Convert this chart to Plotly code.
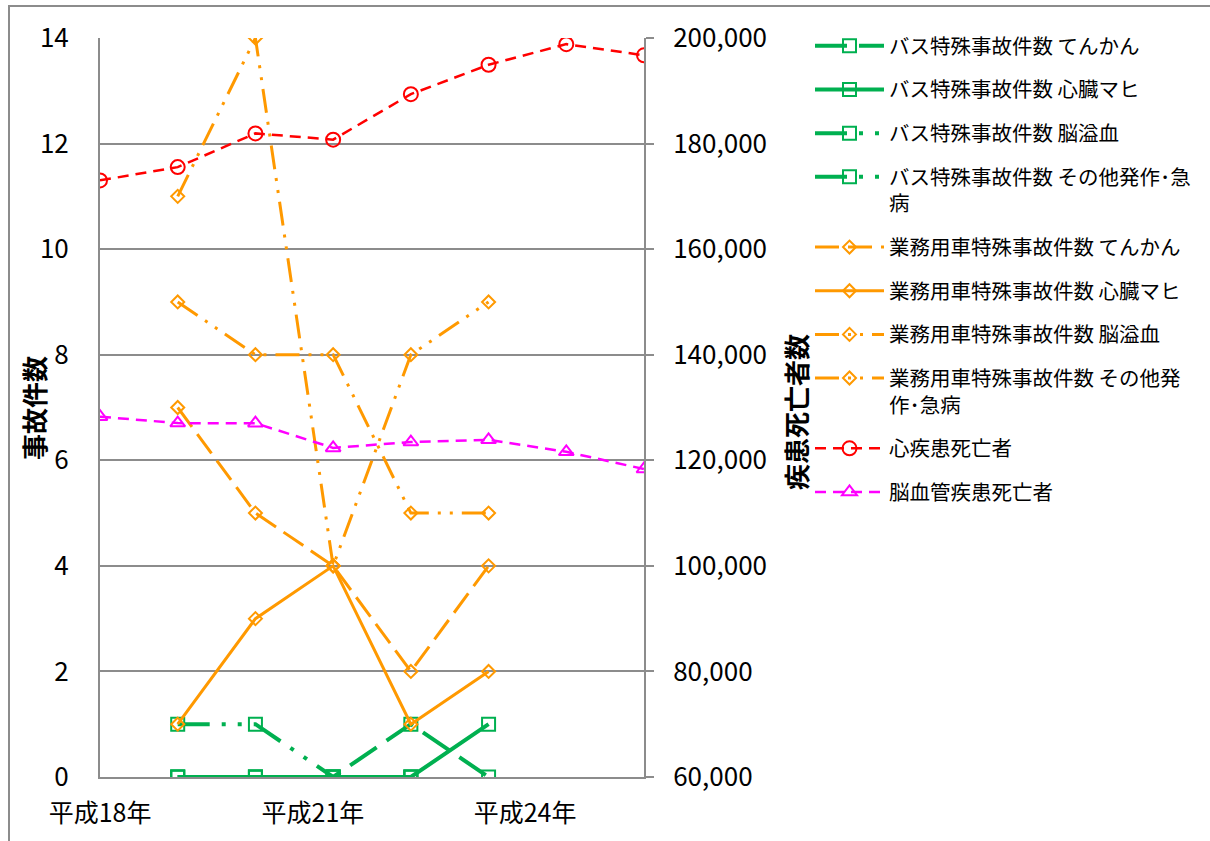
import plotly.graph_objects as go

# ---- data ----
years = [18, 19, 20, 21, 22, 23, 24, 25]            # 平成 year (x axis)
accident_years = [19, 20, 21, 22, 23]
x_tick_vals = [18, 20.74, 23.47]
x_tick_text = ["平成18年", "平成21年", "平成24年"]

bus_epilepsy = [0, 0, 0, 1, 0]
bus_heart = [0, 0, 0, 0, 1]
bus_stroke = [1, 1, 0, 0, None]
bus_other = [0, 0, 0, 0, None]

work_epilepsy = [7, 5, 4, 2, 4]
work_heart = [1, 3, 4, 1, 2]
work_stroke = [11, 14, 4, 8, 9]
work_other = [9, 8, 8, 5, 5]

heart_deaths = [173024, 175539, 181928, 180745, 189360, 194926, 198836, 196723]
cerebro_deaths = [128268, 127041, 127023, 122350, 123461, 123867, 121602, 118347]

names = [
    "バス特殊事故件数 てんかん",
    "バス特殊事故件数 心臓マヒ",
    "バス特殊事故件数 脳溢血",
    "バス特殊事故件数 その他発作･急<br>病",
    "業務用車特殊事故件数 てんかん",
    "業務用車特殊事故件数 心臓マヒ",
    "業務用車特殊事故件数 脳溢血",
    "業務用車特殊事故件数 その他発<br>作･急病",
    "心疾患死亡者",
    "脳血管疾患死亡者",
]

GREEN = "#00B050"
ORANGE = "#FF9900"
RED = "#FF0000"
MAGENTA = "#FF00FF"
CJK = "Noto Sans CJK JP"

DASH_G_LONG = "32px,12px"
DASH_G_LDD = "32px,12px,4px,12px,4px,12px"
DASH_O_LONG = "24px,9px"
DASH_O_LDD = "24px,9px,3px,9px,3px,9px"
DASH_R = "11px,7px"

fig = go.Figure()

def add(x, y, name, color, dash, width, symbol, msize, yaxis="y", group=""):
    fig.add_trace(go.Scatter(
        x=x, y=y, name=name, yaxis=yaxis, mode="lines+markers",
        legendgroup=group,
        line=dict(color=color, width=width, dash=dash),
        marker=dict(symbol=symbol, size=msize, color=color,
                    line=dict(color=color, width=2)),
        connectgaps=False,
    ))

add(accident_years, bus_epilepsy, names[0], GREEN, DASH_G_LONG, 4, "square-open", 13, group="g0")
add(accident_years, bus_heart, names[1], GREEN, "solid", 4, "square-open", 13, group="g1")
add(accident_years, bus_stroke, names[2], GREEN, DASH_G_LDD, 4, "square-open", 13, group="g2")
add(accident_years, bus_other, names[3], GREEN, DASH_G_LDD, 4, "square-open", 13, group="g3")
add(accident_years, work_epilepsy, names[4], ORANGE, DASH_O_LONG, 3, "diamond-open", 10, group="g4")
add(accident_years, work_heart, names[5], ORANGE, "solid", 3, "diamond-open", 10, group="g5")
add(accident_years, work_stroke, names[6], ORANGE, DASH_O_LDD, 3, "diamond-open", 10, group="g6")
add(accident_years, work_other, names[7], ORANGE, DASH_O_LDD, 3, "diamond-open", 10, group="g7")
add(years, heart_deaths, names[8], RED, DASH_R, 2.5, "circle-open", 14, yaxis="y2", group="g8")
add(years, cerebro_deaths, names[9], MAGENTA, DASH_R, 2.5, "triangle-up-open", 13, yaxis="y2", group="g9")

GRID = "#8C8C8C"
PLOT_L, PLOT_R, PLOT_T, PLOT_B = 100, 644, 38, 777
W, H = 1210, 841

def px_x(px):
    return (px - PLOT_L) / (PLOT_R - PLOT_L)

def px_y(py):
    return (PLOT_B - py) / (PLOT_B - PLOT_T)

fig.update_layout(
    width=W, height=H,
    margin=dict(l=PLOT_L, r=W - PLOT_R, t=PLOT_T, b=H - PLOT_B),
    paper_bgcolor="white", plot_bgcolor="white",
    font=dict(family=CJK, color="black", size=24),
    showlegend=True,
    legend=dict(
        x=px_x(810), y=px_y(26), xanchor="left", yanchor="top",
        font=dict(family=CJK, size=20.5, color="black"),
        bgcolor="rgba(0,0,0,0)", borderwidth=0,
        tracegroupgap=14, valign="top", itemwidth=69,
        traceorder="grouped", maxheight=800,
    ),
    xaxis=dict(
        range=[18, 25], tickvals=x_tick_vals, ticktext=x_tick_text,
        showgrid=False, zeroline=False, showline=True, linecolor=GRID, linewidth=2,
        ticks="", ticklabelstandoff=13,
        tickfont=dict(family=CJK, size=25),
    ),
    yaxis=dict(
        range=[0, 14], dtick=2, tick0=0,
        showgrid=True, gridcolor=GRID, gridwidth=2,
        zeroline=False, showline=True, linecolor=GRID, linewidth=2,
        ticks="", ticklabelstandoff=24,
        tickfont=dict(family=CJK, size=26),
    ),
    yaxis2=dict(
        range=[60000, 200000], dtick=20000, tick0=60000,
        overlaying="y", side="right", tickformat=",d",
        showgrid=False, zeroline=False, showline=True, linecolor=GRID, linewidth=2,
        ticks="outside", ticklen=8, tickcolor=GRID, tickwidth=2, ticklabelstandoff=14,
        tickfont=dict(family=CJK, size=26),
    ),
    annotations=[
        dict(text="<b>事故件数</b>", x=px_x(33), y=px_y(408), xref="paper", yref="paper",
             textangle=-90, showarrow=False, xanchor="center", yanchor="middle",
             font=dict(family=CJK, size=26, color="black")),
        dict(text="<b>疾患死亡者数</b>", x=px_x(795), y=px_y(412), xref="paper", yref="paper",
             textangle=-90, showarrow=False, xanchor="center", yanchor="middle",
             font=dict(family=CJK, size=26, color="black")),
    ],
    shapes=[
        dict(type="rect", xref="paper", yref="paper",
             x0=px_x(9), x1=px_x(1230), y0=px_y(860), y1=px_y(6),
             line=dict(color="#8C8C8C", width=2), fillcolor="rgba(0,0,0,0)", layer="below"),
    ],
)

fig.write_html("out.html")
